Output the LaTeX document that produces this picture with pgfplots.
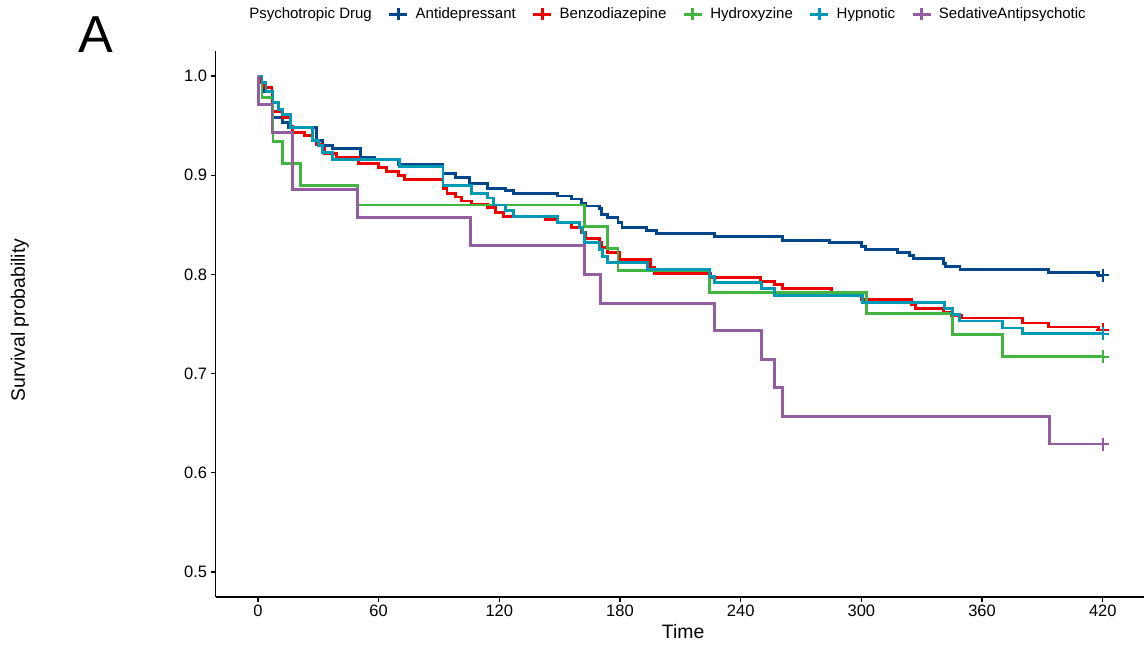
\documentclass[border=0pt]{standalone}
\usepackage{pgfplots}
\pgfplotsset{compat=1.18}
\usepackage{fontspec}
\setmainfont{Liberation Sans}

\definecolor{cAnti}{HTML}{00468B}
\definecolor{cBenz}{HTML}{ED0000}
\definecolor{cHydr}{HTML}{42B540}
\definecolor{cHypn}{HTML}{0099B4}
\definecolor{cSeda}{HTML}{925E9F}

\begin{document}
\begin{tikzpicture}
\begin{axis}[
    name=ax,
    width=929.3bp, height=545.6bp, scale only axis,
    xmin=-21, xmax=441, ymin=0.475, ymax=1.025,
    axis x line*=bottom, axis y line*=left,
    axis line style={line width=1.4bp, black},
    xtick={0,60,120,180,240,300,360,420},
    ytick={0.5,0.6,0.7,0.8,0.9,1.0},
    tick align=outside, major tick length=5bp,
    tick style={line width=1.2bp, black},
    every tick label/.append style={font=\fontsize{16.5bp}{19bp}\selectfont, text=black},
    /pgf/number format/assume math mode=true,
    yticklabel style={/pgf/number format/.cd, fixed, fixed zerofill, precision=1},
    xlabel={Time}, ylabel={Survival probability},
    label style={font=\fontsize{19.4bp}{23bp}\selectfont},
    xlabel style={at={(axis description cs:0.503,-0.0773)}, anchor=base},
    ylabel style={at={(axis description cs:-0.2106,0.507)}, anchor=center},
    clip=false,
    legend columns=-1,
    legend cell align=left,
    legend style={draw=none, fill=none, at={(axis description cs:0.4835,1.068)}, anchor=center,
        font=\fontsize{15bp}{17bp}\selectfont,
        /tikz/every odd column/.append style={column sep=5bp},
        /tikz/every even column/.append style={column sep=14bp}},
    legend image code/.code={
        \draw[#1] (0bp,0bp) -- (18bp,0bp);
        \draw[#1] (9bp,-6bp) -- (9bp,6bp);},
]
\addlegendimage{empty legend}
\addlegendentry{Psychotropic Drug}

% Antidepressant
\addplot[const plot, color=cAnti, line width=2.9bp] coordinates {
(0,1.000) (2,0.993) (3,0.984) (7,0.958) (12,0.953) (15,0.948) (29,0.935) (32,0.930)
(37,0.927) (51,0.918) (58,0.916) (70,0.911) (92,0.902) (98,0.898) (105,0.892) (114,0.887)
(123,0.885) (127,0.882) (149,0.879) (156,0.876) (161,0.872) (163,0.869) (170,0.866)
(171,0.860) (174,0.857) (179,0.852) (181,0.847) (193,0.844) (198,0.841) (227,0.838)
(261,0.834) (284,0.832) (300,0.828) (302,0.825) (318,0.822) (324,0.819) (326,0.816)
(341,0.811) (342,0.808) (349,0.805) (393,0.802) (418,0.799) (420,0.799)};
\addlegendentry{Antidepressant}

% Benzodiazepine
\addplot[const plot, color=cBenz, line width=2.9bp] coordinates {
(0,1.000) (1,0.993) (3,0.988) (7,0.964) (12,0.958) (16,0.949) (17,0.943) (23,0.940)
(27,0.935) (29,0.931) (32,0.927) (33,0.922) (39,0.918) (50,0.912) (60,0.908) (64,0.904)
(70,0.900) (73,0.896) (92,0.887) (94,0.882) (98,0.878) (101,0.874) (106,0.871) (114,0.867)
(118,0.862) (122,0.858) (143,0.855) (149,0.852) (156,0.847) (161,0.842) (163,0.836)
(170,0.832) (171,0.827) (174,0.822) (180,0.815) (195,0.807) (197,0.801) (225,0.797)
(250,0.793) (257,0.790) (261,0.786) (285,0.780) (300,0.775) (325,0.770) (327,0.766)
(341,0.762) (345,0.759) (350,0.756) (380,0.751) (393,0.747) (418,0.744) (420,0.744)};
\addlegendentry{Benzodiazepine}

% Hydroxyzine
\addplot[const plot, color=cHydr, line width=2.9bp] coordinates {
(0,1.000) (2,0.978) (7.5,0.934) (12.4,0.912) (21,0.890) (49.7,0.870) (162.4,0.848)
(174,0.826) (179,0.804) (224.5,0.782) (302.5,0.761) (345.3,0.739) (370,0.717) (420,0.717)};
\addlegendentry{Hydroxyzine}

% Hypnotic
\addplot[const plot, color=cHypn, line width=2.9bp] coordinates {
(0,1.000) (2,0.993) (4,0.984) (7.5,0.973) (10,0.966) (12.4,0.961) (16,0.948) (27,0.935)
(30,0.930) (32,0.923) (37,0.916) (70.5,0.909) (92,0.890) (106,0.882) (114,0.877)
(117,0.870) (123,0.864) (127,0.858) (149,0.852) (160,0.847) (161.5,0.842) (162.4,0.832)
(170,0.825) (171.4,0.818) (174,0.812) (193.5,0.805) (224.5,0.798) (227,0.792)
(250.4,0.786) (256.8,0.779) (300.5,0.772) (341.3,0.766) (345.3,0.760) (348.7,0.753)
(370.1,0.746) (380,0.740) (420,0.740)};
\addlegendentry{Hypnotic}

% SedativeAntipsychotic
\addplot[const plot, color=cSeda, line width=2.9bp] coordinates {
(0,1.000) (0.5,0.971) (7,0.943) (17.4,0.886) (49.7,0.857) (105.8,0.829) (162.4,0.800)
(170.4,0.771) (227,0.743) (250.4,0.714) (256.8,0.686) (260.8,0.657) (393.4,0.629) (420,0.629)};
\addlegendentry{SedativeAntipsychotic}

% censoring marks at the end of follow-up
\addplot[forget plot, only marks, mark=+, mark size=6.5bp, color=cAnti, line width=1.9bp] coordinates {(420,0.799)};
\addplot[forget plot, only marks, mark=+, mark size=6.5bp, color=cBenz, line width=1.9bp] coordinates {(420,0.744)};
\addplot[forget plot, only marks, mark=+, mark size=6.5bp, color=cHydr, line width=1.9bp] coordinates {(420,0.717)};
\addplot[forget plot, only marks, mark=+, mark size=6.5bp, color=cHypn, line width=1.9bp] coordinates {(420,0.740)};
\addplot[forget plot, only marks, mark=+, mark size=6.5bp, color=cSeda, line width=1.9bp] coordinates {(420,0.629)};

\node[anchor=base, font=\fontsize{52bp}{60bp}\selectfont] at (axis description cs:-0.1288,0.9967) {A};
\end{axis}
\pgfresetboundingbox
\path[use as bounding box] (ax.south west) ++(-215.7bp,-48.2bp) rectangle ++(1144bp,645bp);
\end{tikzpicture}
\end{document}
